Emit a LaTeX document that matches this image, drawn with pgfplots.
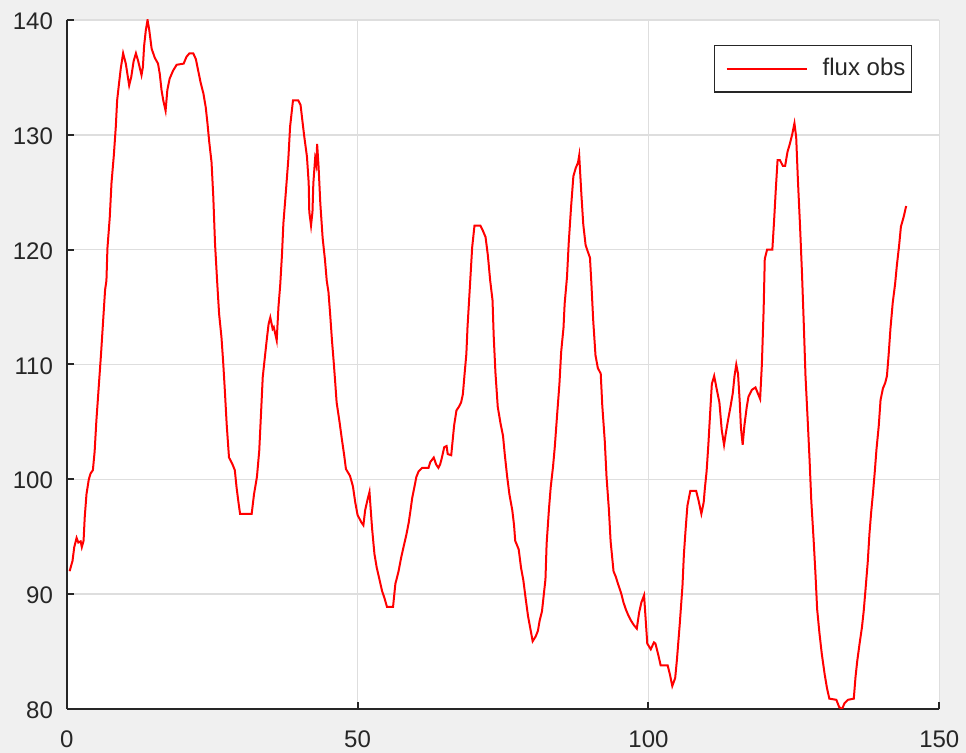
\documentclass[border=0pt]{standalone}
\usepackage{fontspec}
\setmainfont{Liberation Sans}
\usepackage{pgfplots}
\pgfplotsset{compat=1.18}
\definecolor{figbg}{HTML}{F0F0F0}
\definecolor{axisgray}{HTML}{262626}
\definecolor{gridgray}{HTML}{DEDEDE}
\begin{document}
\begin{tikzpicture}
\fill[figbg] (-33.35pt,-22pt) rectangle (449.65pt,354.5pt);
\begin{axis}[
  scale only axis, width=436.3pt, height=344.5pt,
  xmin=0, xmax=150, ymin=80, ymax=140,
  xtick={0,50,100,150}, ytick={80,90,100,110,120,130,140},
  axis x line*=bottom, axis y line*=left,
  xtick pos=bottom, ytick pos=left,
  axis line style={draw=axisgray, line width=1pt},
  tick align=inside, major tick length=3.5pt,
  tick style={draw=axisgray, line width=1pt},
  grid=major, grid style={draw=gridgray, line width=0.7pt},
  axis background/.style={fill=white},
  /pgf/number format/assume math mode=true,
  tick label style={font=\fontsize{12}{14}\selectfont, text=axisgray},
  xticklabel style={anchor=north, inner sep=0pt, yshift=-10.5pt},
  yticklabel style={anchor=east, inner sep=0pt, xshift=-6.7pt, yshift=-0.7pt},
  legend style={at={(0.9687,0.9637)}, anchor=north east, draw=axisgray, line width=0.6pt,
    fill=white, font=\fontsize{12}{14}\selectfont, text=axisgray,
    inner xsep=1pt, inner ysep=4.5pt, nodes={inner sep=2pt}},
  legend image code/.code={\path[draw=none,fill=none] (0pt,0pt) rectangle (51pt,0.1pt); \draw[#1] (5pt,0pt) -- (45pt,0pt);},
  legend cell align=left,
]
\addplot[draw=red, line width=1pt, mark=none] coordinates {
(0.5,92)(1.0,92.9)(1.3,94.1)(1.7,94.9)(2.0,94.5)(2.4,94.6)(2.6,94.1)(2.9,94.65)(3.1,96.7)(3.4,98.7)(3.8,100)(4.1,100.5)(4.5,100.8)(4.8,102.4)(5.1,105.1)(5.5,108)(5.9,110.9)(6.3,114.1)(6.6,116.5)
(6.83,117.3)(7.0,120.1)(7.4,122.8)(7.7,125.8)(8.1,128.2)(8.44,130.7)(8.67,133.0)(9.0,134.5)(9.3,135.8)(9.7,137.1)(10.16,136.2)(10.74,134.3)(11.1,135.05)(11.5,136.4)(11.9,137.1)(12.3,136.4)(12.86,135.2)(13.1,135.9)(13.3,137.7)(13.6,139.1)(13.9,140)(14.2,139.1)(14.6,137.5)(15.15,136.7)(15.7,136.2)(16.0,135.3)(16.3,133.9)(16.6,133.0)(17.0,132.1)(17.3,133.9)(17.7,134.9)(18.3,135.6)(18.9,136.1)(20.1,136.2)(20.6,136.8)(21.1,137.1)(21.75,137.1)(22.2,136.6)(22.6,135.6)(23.0,134.6)(23.5,133.6)(23.9,132.4)(24.2,131.0)(24.5,129.4)(24.9,127.6)(25.2,124.6)(25.5,120.5)(25.9,116.9)
(26.2,114.4)(26.6,112.4)(26.9,110.2)(27.2,107.6)(27.5,104.8)(27.9,101.9)(28.5,101.3)(28.9,100.8)(29.2,99.3)(29.5,98.1)(29.8,97.0)(31.8,97.0)(32.2,98.7)(32.7,100.2)(33.1,102.5)(33.4,105.7)(33.7,108.9)(34.1,110.8)(34.4,112.2)(34.7,113.5)(35.0,114.1)(35.4,113.1)(35.6,113.25)(36.1,112.1)(36.4,115.0)(36.7,116.9)(37.0,119.5)(37.25,122.3)(37.7,125.2)(38.1,127.9)(38.4,130.7)(38.9,133.0)(39.8,133.0)(40.2,132.6)(40.5,131.3)(40.8,130.0)(41.3,128.1)(41.6,125.8)(41.7,123.3)(42.0,122.1)(42.25,123.3)(42.4,125.8)(42.7,127.9)(42.9,127.4)(43.05,129.2)(43.3,127.2)(43.6,124.0)(44.0,121.0)(44.4,119.1)(44.7,117.3)(45.0,116.3)(45.3,114.3)(45.6,112.1)(45.9,110.2)(46.15,108.5)(46.4,106.7)(46.9,105.0)(47.3,103.5)(47.7,102.1)(48.0,100.9)(48.7,100.3)(49.2,99.4)(49.6,98.0)(50.0,96.9)(50.6,96.3)(51.0,96.0)(51.3,97.3)(51.7,98.2)(52.05,98.9)(52.2,97.8)(52.5,95.7)(52.9,93.5)(53.3,92.3)(53.8,91.2)(54.2,90.3)(54.6,89.7)(55.05,88.9)(56.1,88.9)(56.5,90.9)(57.05,92.0)(57.5,93.2)(57.9,94.1)(58.4,95.2)(58.8,96.25)(59.1,97.3)(59.4,98.4)(59.8,99.4)(60.1,100.2)(60.5,100.7)(61.1,101.0)(62.2,101.0)(62.5,101.5)(63.1,101.9)(63.5,101.3)(63.9,101.0)(64.2,101.3)(64.5,101.9)(64.9,102.8)(65.3,102.9)(65.5,102.2)(66.1,102.1)(66.35,103.4)(66.6,104.7)(67.0,106.0)(67.4,106.3)(67.8,106.7)(68.1,107.4)(68.4,109.2)(68.7,110.9)(68.9,113.25)(69.3,116.7)(69.7,120.2)(70.1,122.1)(71.1,122.1)(71.5,121.7)(72.0,121.1)(72.4,119.5)(72.8,117.3)(73.2,115.6)(73.4,112.5)(73.7,109.3)(74.1,106.3)(74.6,104.8)(75.0,103.8)(75.3,102.2)(75.7,100.3)(76.1,98.7)(76.6,97.3)(76.9,96.0)(77.1,94.65)(77.7,93.9)(78.1,92.3)(78.5,91.2)(78.9,89.6)(79.3,88.1)(79.7,87.0)(80.1,85.9)
(80.6,86.3)(81.0,86.8)(81.3,87.7)(81.7,88.5)(82.0,89.9)(82.3,91.3)(82.5,94.4)(82.9,97.4)(83.2,99.3)(83.6,101.1)(83.9,102.8)(84.3,105.6)(84.7,108.3)(85.0,111.1)(85.4,113.2)(85.6,115.3)(86.0,117.6)(86.3,120.6)(86.7,123.7)(87.1,126.4)(87.5,127.1)(87.9,127.6)(88.1,128.2)(88.5,124.6)(88.8,122.2)(89.2,120.4)(89.6,119.8)(89.95,119.3)(90.2,117.0)(90.5,113.9)(90.9,110.8)(91.3,109.7)(91.8,109.2)(92.07,106.4)(92.5,103.3)(92.8,100.2)(93.2,97.4)(93.5,94.6)(94.0,92.0)(94.4,91.5)(94.8,90.85)(95.3,90.1)(95.7,89.3)(96.1,88.7)(96.5,88.2)(97.0,87.7)(97.5,87.3)(98.0,87.0)(98.4,88.4)(98.8,89.3)(99.25,89.9)(99.5,88)(99.8,85.7)(100.4,85.2)(100.95,85.8)(101.2,85.7)(101.7,84.7)(102.1,83.8)(103.3,83.8)(103.7,83.0)(104.1,82.0)(104.6,82.7)(104.9,84.3)(105.4,87.5)(105.85,90.7)(106.1,93.5)(106.4,95.7)(106.7,97.7)(107.2,99.0)(108.2,99.0)(108.6,98.2)(109.1,97.0)(109.5,98.0)(109.7,99.2)(110.0,100.7)(110.3,103.0)(110.6,105.7)(110.9,108.3)(111.3,109.0)(111.8,107.7)(112.2,106.7)(112.6,104.3)(113.0,103.0)(113.3,104.0)(113.7,105.2)(114.1,106.3)(114.5,107.5)(114.8,109.0)(115.1,110.0)(115.4,109.2)(115.7,106.7)(115.9,104.5)(116.2,103.0)(116.5,104.7)(116.9,106.3)(117.2,107.2)(117.8,107.8)(118.4,108.0)(118.8,107.5)(119.2,107.0)(119.5,110.0)(119.8,114.7)(120.0,119.2)(120.4,120.0)(121.3,120.0)(121.6,122.5)(121.9,125.3)(122.2,127.8)(122.6,127.8)(123.1,127.3)(123.5,127.3)(123.9,128.5)(124.3,129.2)(124.7,130.0)(125.1,131.0)(125.4,129.8)(125.7,126.0)(126.05,122.2)(126.4,117.9)(126.7,113.6)(127.0,109.0)(127.4,104.9)(127.7,101.7)(128.0,98.1)(128.4,94.7)(128.7,91.9)(129.0,88.7)(129.4,86.6)(129.8,84.8)(130.3,83.0)(130.7,81.8)(131.1,80.9)(132.3,80.8)(132.8,80.15)(133.3,80.0)(133.7,80.5)(134.3,80.8)(135.3,80.9)(135.6,82.8)(135.9,84.2)(136.3,85.7)(136.7,87.1)(137.0,88.5)(137.3,90.3)(137.7,92.8)(138.0,95.3)(138.3,97.2)(138.6,98.8)(138.9,100.6)(139.2,102.6)(139.6,104.7)(139.9,106.9)(140.3,107.9)(140.7,108.4)(141.0,109.0)(141.3,110.9)(141.6,113.1)(142.0,115.4)(142.4,117.0)(142.7,118.6)(143.1,120.4)(143.4,122.0)(143.9,122.9)(144.3,123.8)
};
\addlegendentry{flux obs}
\end{axis}
\pgfresetboundingbox
\path (-33.35pt,-22pt) rectangle (449.65pt,354.5pt);
\end{tikzpicture}
\end{document}
